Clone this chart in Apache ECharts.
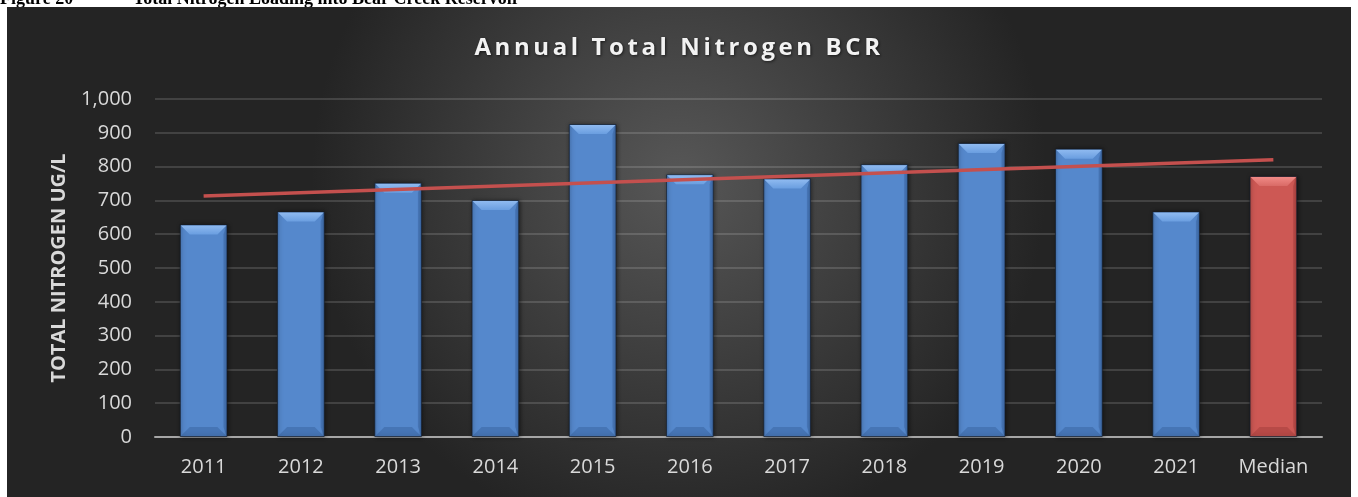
<!DOCTYPE html>
<html>
<head>
<meta charset="utf-8">
<script src="https://cdn.jsdelivr.net/npm/echarts@6/dist/echarts.min.js"></script>
<style>
html,body{margin:0;padding:0;background:#fff;}
#chart{width:1358px;height:497px;}
</style>
</head>
<body>
<div id="chart"></div>
<script>
// ---- data ----
var categories = ['2011','2012','2013','2014','2015','2016','2017','2018','2019','2020','2021','Median'];
var nitrogenValues = [629, 667, 752, 701, 926, 777, 765, 807, 870, 853, 667, 772];
var trendValues = [713, null, null, null, null, null, null, null, null, null, null, 820];
var yTicks = [0, 100, 200, 300, 400, 500, 600, 700, 800, 900, 1000];
var captionLeft = 'Figure 20';
var captionRight = 'Total Nitrogen Loading into Bear Creek Reservoir';
var chartTitle = 'Annual Total Nitrogen BCR';
var yAxisTitle = 'TOTAL NITROGEN UG/L';

// Excel-style character spacing for the chart title only
(function(){
  var proto = CanvasRenderingContext2D.prototype;
  var orig = proto.fillText;
  proto.fillText = function(t, x, y, m){
    if (t === chartTitle && 'letterSpacing' in this) {
      var prev = this.letterSpacing;
      var w0 = this.measureText(t).width;
      this.letterSpacing = '3.6px';
      var w1 = this.measureText(t).width;
      var dx = 0;
      if (this.textAlign === 'left' || this.textAlign === 'start') dx = -(w1 - w0) / 2;
      else if (this.textAlign === 'right' || this.textAlign === 'end') dx = (w1 - w0) / 2;
      orig.call(this, t, x + dx, y, m);
      this.letterSpacing = prev;
      return;
    }
    return orig.apply(this, arguments);
  };
})();

var BLUE = '#5588cc', RED = '#cd5854';
function isMedian(i){ return categories[i] === 'Median'; }

var chart = echarts.init(document.getElementById('chart'));

var barData = nitrogenValues.map(function(v, i){
  var base = isMedian(i) ? RED : BLUE;
  var edge = isMedian(i) ? '#b44a47' : '#4a79b8';
  return {
    value: v,
    itemStyle: {
      color: new echarts.graphic.LinearGradient(0,0,1,0,[
        {offset:0,color:edge},{offset:0.07,color:base},{offset:0.93,color:base},{offset:1,color:edge}
      ]),
      borderColor: 'rgba(20,30,45,0.7)',
      borderWidth: 1,
      shadowColor: 'rgba(0,0,0,0.5)',
      shadowBlur: 4,
      shadowOffsetX: 1,
      shadowOffsetY: 0
    }
  };
});

var bevelData = nitrogenValues.map(function(v, i){ return [i, v]; });

var option = {
  backgroundColor: '#ffffff',
  animation: false,
  graphic: [
    {
      type: 'text', z: -20, silent: true,
      style: {text: captionLeft, x: 0, y: 8.5, fontSize: 18, fontWeight: 'bold', fontFamily: 'Liberation Serif', fill: '#000', verticalAlign: 'bottom'}
    },
    {
      type: 'text', z: -20, silent: true,
      style: {text: captionRight, x: 133, y: 8.5, fontSize: 18, fontWeight: 'bold', fontFamily: 'Liberation Serif', fill: '#000', verticalAlign: 'bottom'}
    },
    {
      type: 'rect', z: -10, silent: true,
      shape: {x: 7, y: 7, width: 1344, height: 490},
      style: {
        fill: new echarts.graphic.RadialGradient(0.5, 0.35, 0.75, [
          {offset: 0, color: '#575757'},
          {offset: 0.55, color: '#3b3b3b'},
          {offset: 1, color: '#242424'}
        ])
      }
    }
  ],
  title: {
    text: chartTitle,
    left: 'center',
    top: 31,
    textStyle: {
      color: '#f2f2f2', fontSize: 24, fontWeight: 'bold', fontFamily: 'Open Sans',
      textShadowColor: 'rgba(0,0,0,0.6)', textShadowBlur: 3, textShadowOffsetX: 1, textShadowOffsetY: 1
    }
  },
  grid: {left: 155, right: 36, top: 99, bottom: 60},
  xAxis: {
    type: 'category',
    data: categories,
    axisLine: {lineStyle: {color: '#a6a6a6', width: 2}},
    axisTick: {show: false},
    axisLabel: {color: '#d9d9d9', fontSize: 20, fontFamily: 'Open Sans', margin: 20}
  },
  yAxis: {
    type: 'value',
    min: yTicks[0],
    max: yTicks[yTicks.length - 1],
    interval: yTicks[1] - yTicks[0],
    name: yAxisTitle,
    nameLocation: 'middle',
    nameGap: 86,
    nameTextStyle: {color: '#d9d9d9', fontSize: 20, fontWeight: 'bold', fontFamily: 'Open Sans'},
    axisLine: {show: false},
    axisTick: {show: false},
    axisLabel: {
      color: '#d9d9d9', fontSize: 20, fontFamily: 'Open Sans', margin: 23,
      formatter: function(v){ return v.toLocaleString('en-US'); }
    },
    splitLine: {lineStyle: {color: 'rgba(255,255,255,0.14)', width: 2}}
  },
  series: [
    {
      type: 'bar',
      data: barData,
      barWidth: '49%',
      z: 2
    },
    {
      type: 'custom',
      data: bevelData,
      z: 3,
      silent: true,
      renderItem: function(params, api){
        var idx = api.value(0), val = api.value(1);
        var top = api.coord([idx, val]);
        var base = api.coord([idx, 0]);
        var w = api.size([1, 0])[0] * 0.49;
        var x0 = top[0] - w / 2 + 1, x1 = top[0] + w / 2 - 1, y = top[1] + 1, yb = base[1] - 1;
        var b = 9;
        var med = isMedian(idx);
        var light = med ? '#f08a86' : '#8fbaf0';
        var light2 = med ? '#d96a66' : '#6a9ee0';
        var dark = med ? 'rgba(120,30,30,0.25)' : 'rgba(20,50,100,0.22)';
        return {
          type: 'group',
          children: [
            {
              type: 'polygon',
              shape: {points: [[x0, y], [x1, y], [x1 - b, y + b], [x0 + b, y + b]]},
              style: {
                fill: new echarts.graphic.LinearGradient(0, 0, 0, 1, [
                  {offset: 0, color: light}, {offset: 1, color: light2}
                ])
              }
            },
            {
              type: 'polygon',
              shape: {points: [[x0, yb], [x1, yb], [x1 - b, yb - b], [x0 + b, yb - b]]},
              style: {fill: dark}
            },
            {
              type: 'polygon',
              shape: {points: [[x1, y], [x1 - 3, y + b], [x1 - 3, yb - b], [x1, yb]]},
              style: {fill: dark}
            }
          ]
        };
      }
    },
    {
      type: 'line',
      data: trendValues,
      connectNulls: true,
      symbol: 'none',
      z: 5,
      lineStyle: {color: '#c4504e', width: 3.5},
      silent: true
    }
  ]
};
chart.setOption(option);
</script>
</body>
</html>
